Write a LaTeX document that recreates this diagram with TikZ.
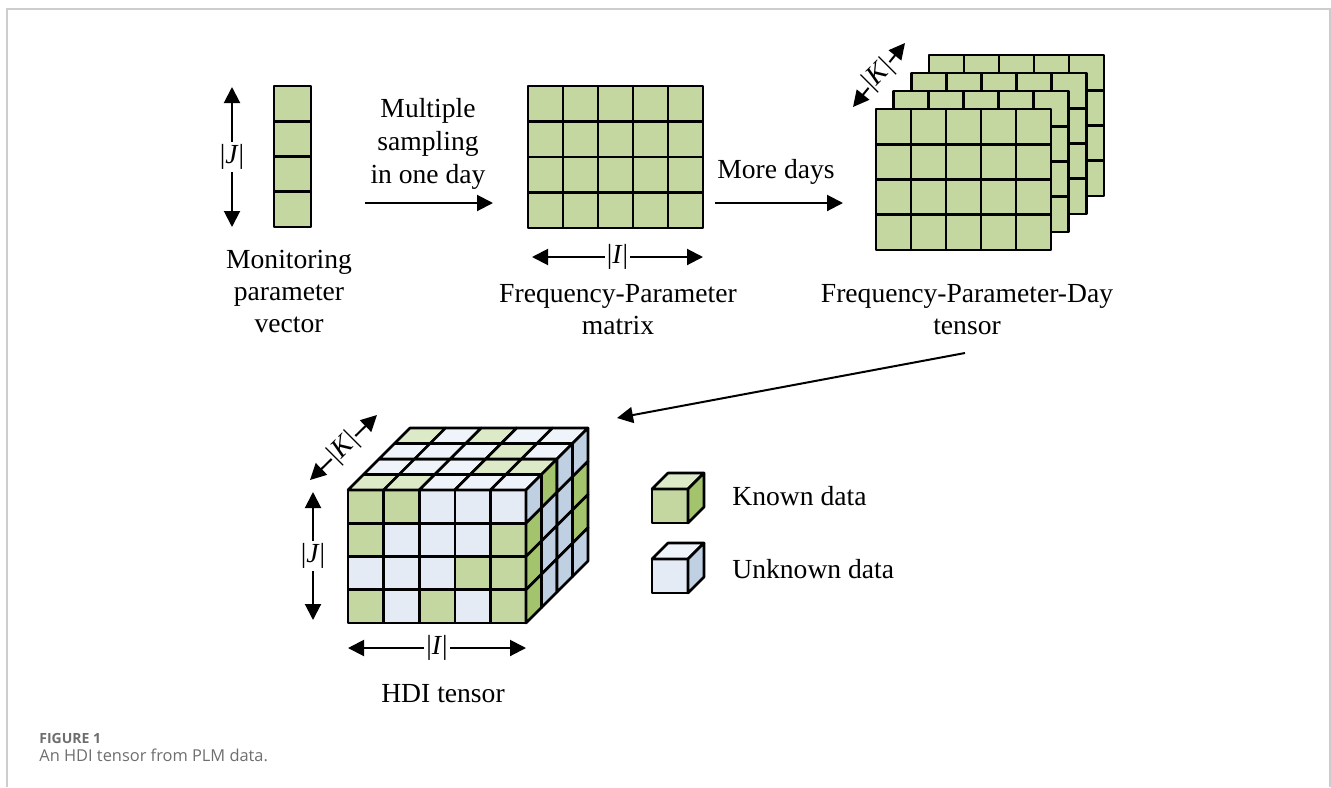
\documentclass[tikz,border=0pt]{standalone}
\usepackage{fontspec}
\setmainfont{Liberation Serif}
\newfontfamily\capfont{Open Sans}
\usepackage{tikz}
\usetikzlibrary{positioning, arrows.meta, calc}

\definecolor{kfront}{RGB}{196,215,160}
\definecolor{ktop}{RGB}{221,234,200}
\definecolor{kside}{RGB}{163,196,108}
\definecolor{ufront}{RGB}{229,235,245}
\definecolor{utop}{RGB}{239,243,250}
\definecolor{uside}{RGB}{190,208,226}
\definecolor{framegray}{RGB}{205,205,205}
\definecolor{capgray}{RGB}{110,110,110}

\begin{document}
\begin{tikzpicture}[x=0.5pt, y=-0.5pt,
  cell/.style={draw=black, line width=1.3pt, line join=round},
  dim/.style={line width=1pt, {Triangle[length=8pt,width=8pt]}-{Triangle[length=8pt,width=8pt]}},
  flow/.style={line width=1pt, -{Triangle[length=8pt,width=8pt]}},
  txt/.style={font=\fontsize{13.8}{16}\selectfont, align=center, inner sep=0pt},
  dimlbl/.style={fill=white, inner sep=1pt, font=\fontsize{13.8}{15}\selectfont}
]
  \useasboundingbox (0,0) rectangle (1331,787);
  \draw[framegray, line width=1pt] (7,787) -- (7,9) -- (1330,9) -- (1330,787);

  % parameter vector
  \foreach \rr in {0,...,3}
    \draw[cell, fill=kfront] (274,{86+\rr*35.25}) rectangle ++(37,35.25);
  \coordinate (vJtop) at (232,87);
  \coordinate (vJbot) at (232,227);
  \draw[dim] (vJtop) -- node[dimlbl] (vJ) {|\textit{J}|} (vJbot);
  \node[txt, anchor=north] (vecname) at (289,250) {Monitoring\\parameter\\vector};

  % sampling arrow
  \coordinate (samp1) at (365,203);
  \coordinate (samp2) at (493,203);
  \draw[flow] (samp1) -- (samp2);
  \node[txt, anchor=north, font=\fontsize{13.8}{16.5}\selectfont] (sampname) at (428,98) {Multiple\\sampling\\in one day};

  % frequency-parameter matrix
  \foreach \cc in {0,...,4}
    \foreach \rr in {0,...,3}
      \draw[cell, fill=kfront] ({528+\cc*35},{86+\rr*35.5}) rectangle ++(35,35.5);
  \coordinate (mIl) at (532,257);
  \coordinate (mIr) at (703,257);
  \draw[dim] (mIl) -- node[dimlbl] (mI) {|\textit{I}|} (mIr);
  \node[txt, anchor=north] (matname) at (618,284) {Frequency-Parameter\\matrix};

  % more days arrow
  \coordinate (day1) at (715,203);
  \coordinate (day2) at (843,203);
  \draw[flow] (day1) -- (day2);
  \node[txt, anchor=base] (dayname) at (776,178) {More days};

  % stacked slices
  \foreach \dd in {3,2,1,0}
    \foreach \cc in {0,...,4}
      \foreach \rr in {0,...,3}
        \draw[cell, fill=kfront] ({876+\dd*17.7+\cc*35},{109-\dd*18+\rr*35.25}) rectangle ++(35,35.25);
  \coordinate (tKa) at (853,107);
  \coordinate (tKb) at (905,43);
  \draw[dim] (tKa) -- node[dimlbl, rotate=45, inner sep=0.5pt] (tK) {|\textit{K}|} (tKb);
  \node[txt, anchor=north] (tenname) at (967,284) {Frequency-Parameter-Day\\tensor};

  % to the HDI tensor
  \coordinate (hdi1) at (965,353);
  \coordinate (hdi2) at (617,418);
  \draw[flow] (hdi1) -- (hdi2);

  % HDI tensor: front faces
  \foreach [count=\rr from 0] \lst in {{k,k,u,u,u},{k,u,u,u,k},{u,u,u,k,k},{k,u,k,u,k}}
    \foreach [count=\cc from 0] \st in \lst
      \draw[cell, fill=\st front] ({348+\cc*35.6},{490+\rr*33.25}) rectangle ++(35.6,33.25);
  % top faces
  \foreach [count=\dd from 0] \lst in {{k,k,u,u,u},{u,u,u,k,k},{u,u,u,k,u},{k,u,k,u,u}}
    \foreach [count=\cc from 0] \st in \lst
      \draw[cell, fill=\st top] ({348+\cc*35.6+\dd*15.5},{490-\dd*15.5})
        -- ++(35.6,0) -- ++(15.5,-15.5) -- ++(-35.6,0) -- cycle;
  % side faces
  \foreach [count=\dd from 0] \lst in {{u,k,k,k},{k,u,u,u},{u,u,u,u},{u,k,k,u}}
    \foreach [count=\rr from 0] \st in \lst
      \draw[cell, fill=\st side] ({526+\dd*15.5},{490+\rr*33.25-\dd*15.5})
        -- ++(15.5,-15.5) -- ++(0,33.25) -- ++(-15.5,15.5) -- cycle;

  \coordinate (hKa) at (310,480);
  \coordinate (hKb) at (377,415);
  \draw[dim] (hKa) -- node[dimlbl, rotate=45, inner sep=0.5pt] (hK) {|\textit{K}|} (hKb);
  \coordinate (hJt) at (313,492);
  \coordinate (hJb) at (313,620);
  \draw[dim] (hJt) -- node[dimlbl] (hJ) {|\textit{J}|} (hJb);
  \coordinate (hIl) at (348,648);
  \coordinate (hIr) at (526,648);
  \draw[dim] (hIl) -- node[dimlbl] (hI) {|\textit{I}|} (hIr);
  \node[txt, anchor=base] (hdiname) at (443,702) {HDI tensor};

  % legend
  \draw[cell, fill=kfront] (652,489) rectangle ++(36,34);
  \draw[cell, fill=ktop] (652,489) -- ++(36,0) -- ++(16,-16) -- ++(-36,0) -- cycle;
  \draw[cell, fill=kside] (688,489) -- ++(16,-16) -- ++(0,34) -- ++(-16,16) -- cycle;
  \node[txt, anchor=base west] (known) at (732,505) {Known data};
  \draw[cell, fill=ufront] (652,559) rectangle ++(36,34);
  \draw[cell, fill=utop] (652,559) -- ++(36,0) -- ++(16,-16) -- ++(-36,0) -- cycle;
  \draw[cell, fill=uside] (688,559) -- ++(16,-16) -- ++(0,34) -- ++(-16,16) -- cycle;
  \node[txt, anchor=base west] (unknown) at (732,578) {Unknown data};

  % caption
  \node[anchor=base west, inner sep=0pt, text=capgray, font=\capfont\bfseries\fontsize{7}{8}\selectfont] (fignum) at (39,743) {FIGURE 1};
  \node[anchor=base west, inner sep=0pt, text=capgray, font=\capfont\fontsize{8.2}{9}\selectfont] (figcap) at (39,761) {An HDI tensor from PLM data.};
\end{tikzpicture}
\end{document}
